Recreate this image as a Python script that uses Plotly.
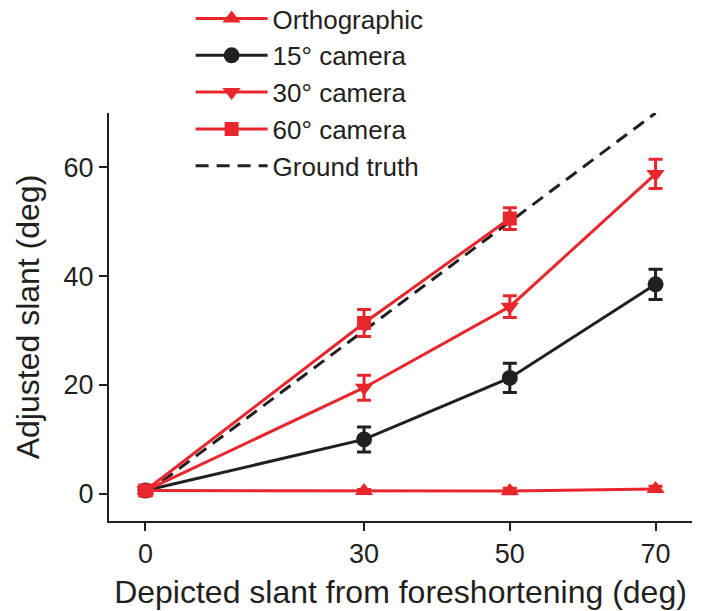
import plotly.graph_objects as go

x_vals = [0, 30, 50, 70]

ortho_y = [0.6, 0.5, 0.5, 0.9]
ortho_err = [0.8, 0.3, 0.5, 0.5]

cam15_y = [0.6, 10.0, 21.3, 38.5]
cam15_err = [0.8, 2.3, 2.7, 2.8]

cam30_y = [0.6, 19.5, 34.4, 58.8]
cam30_err = [0.8, 2.3, 2.0, 2.7]

cam60_y = [0.6, 31.4, 50.6]
cam60_err = [0.8, 2.5, 2.0]
cam60_x = [0, 30, 50]

truth_x = [0, 70]
truth_y = [0, 70]

RED = "#e8272d"
BLACK = "#231f20"
FONT = "Liberation Sans, Arial, sans-serif"

fig = go.Figure()

fig.add_trace(go.Scatter(
    x=truth_x, y=truth_y, mode="lines", name="Ground truth",
    line=dict(color=BLACK, width=3, dash="13px,8px"), legendrank=5))

fig.add_trace(go.Scatter(
    x=x_vals, y=cam15_y, mode="lines+markers", name="15° camera",
    line=dict(color=BLACK, width=3),
    marker=dict(symbol="circle", size=16, color=BLACK),
    error_y=dict(type="data", array=cam15_err, color=BLACK, thickness=3, width=7),
    legendrank=2))

fig.add_trace(go.Scatter(
    x=x_vals, y=ortho_y, mode="lines+markers", name="Orthographic",
    line=dict(color=RED, width=3),
    marker=dict(symbol="triangle-up", size=16, color=RED),
    error_y=dict(type="data", array=ortho_err, color=RED, thickness=3, width=7),
    legendrank=1))

fig.add_trace(go.Scatter(
    x=x_vals, y=cam30_y, mode="lines+markers", name="30° camera",
    line=dict(color=RED, width=3),
    marker=dict(symbol="triangle-down", size=16, color=RED),
    error_y=dict(type="data", array=cam30_err, color=RED, thickness=3, width=7),
    legendrank=3))

fig.add_trace(go.Scatter(
    x=cam60_x, y=cam60_y, mode="lines+markers", name="60° camera",
    line=dict(color=RED, width=3),
    marker=dict(symbol="square", size=14, color=RED),
    error_y=dict(type="data", array=cam60_err, color=RED, thickness=3, width=7),
    legendrank=4))

fig.update_layout(
    width=702, height=611,
    margin=dict(l=109, r=10, t=113, b=90, autoexpand=False),
    paper_bgcolor="white", plot_bgcolor="white",
    font=dict(family=FONT, size=25, color=BLACK),
    showlegend=True,
    legend=dict(
        x=0.14, y=1.289, xanchor="left", yanchor="top",
        bgcolor="rgba(0,0,0,0)", font=dict(size=26, family=FONT),
        itemwidth=72, tracegroupgap=0, traceorder="normal"),
    xaxis=dict(
        range=[-5, 75], tickvals=x_vals, ticktext=[str(v) for v in x_vals],
        showgrid=False, zeroline=False, showline=True, linecolor=BLACK, linewidth=2,
        ticks="outside", ticklen=8, tickwidth=2, tickcolor=BLACK,
        tickfont=dict(size=27, family=FONT),
        title=dict(text="Depicted slant from foreshortening (deg)", font=dict(size=32, family=FONT), standoff=12)),
    yaxis=dict(
        range=[-5, 70], tickvals=[0, 20, 40, 60],
        showgrid=False, zeroline=False, showline=True, linecolor=BLACK, linewidth=2,
        ticks="outside", ticklen=8, tickwidth=2, tickcolor=BLACK,
        tickfont=dict(size=27, family=FONT),
        title=dict(text="Adjusted slant (deg)", font=dict(size=32, family=FONT), standoff=14)),
)

fig.write_html("out.html", config={"displayModeBar": False},
               post_script="document.body.style.margin='0px';document.body.style.overflow='hidden';")
